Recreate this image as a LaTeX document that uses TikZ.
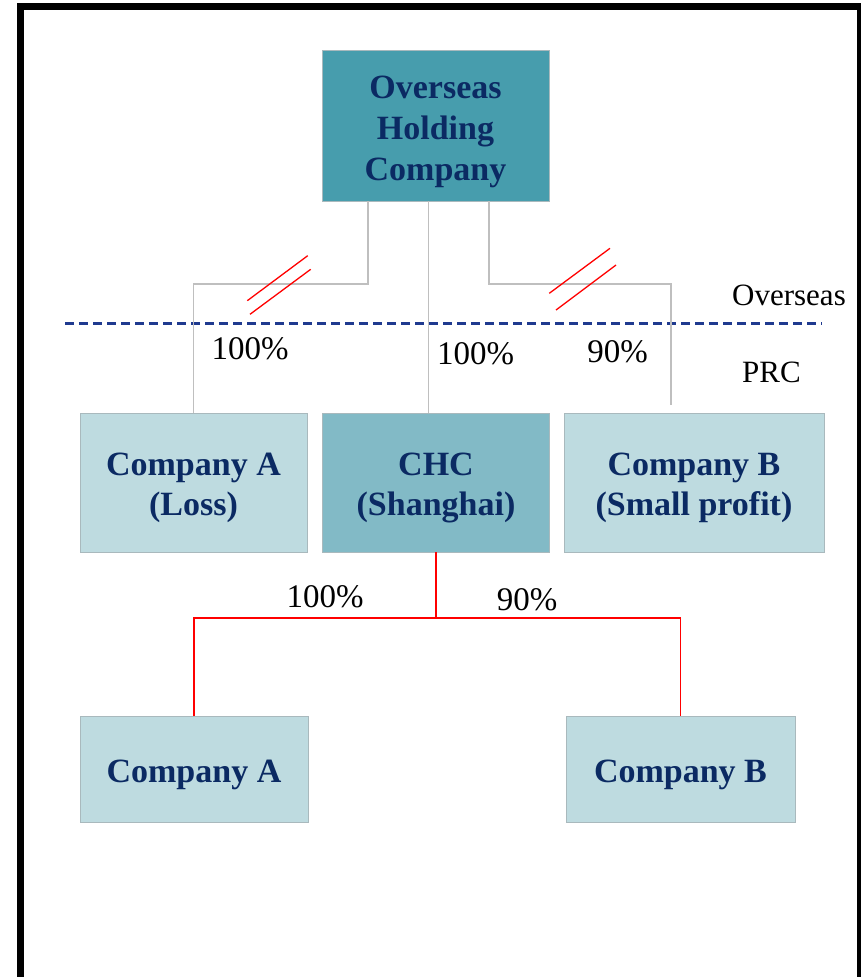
\documentclass[tikz,border=0pt]{standalone}
\usepackage{fontspec}
\setmainfont{Liberation Serif}
\definecolor{navytext}{HTML}{0B2A63}
\definecolor{tealdark}{HTML}{479DAD}
\definecolor{tealmid}{HTML}{82BAC6}
\definecolor{teallight}{HTML}{BEDBE0}
\definecolor{boxedge}{HTML}{A9B9BD}
\definecolor{linkgray}{HTML}{BFBFBF}
\definecolor{borderblue}{HTML}{1F3A8F}
\begin{document}
\begin{tikzpicture}[x=1pt,y=-1pt,
  box/.style={draw=boxedge,line width=1pt,inner sep=0pt,outer sep=0pt},
  boxtext/.style={anchor=base,inner sep=0pt,text=navytext,font=\fontsize{34}{41}\selectfont\bfseries},
  pct/.style={anchor=base,inner sep=0pt,text=black,font=\fontsize{33}{40}\selectfont},
  zone/.style={anchor=base,inner sep=0pt,text=black,font=\fontsize{31}{38}\selectfont},
  link/.style={draw=linkgray,line width=1.5pt},
  redlink/.style={draw=red,line width=1.5pt},
  cut/.style={draw=red,line width=1.3pt}]
\useasboundingbox (0,0) rectangle (861,977);
\fill[white] (0,0) rectangle (861,977);

% frame (open at the bottom)
\draw[black,line width=6.5pt] (20.5,1000) -- (20.5,6.3) -- (860,6.3) -- (860,1000);

% boxes
\node[box,fill=tealdark,minimum width=227pt,minimum height=151pt] (ohc) at (435.5,125.5) {};
\node[box,fill=teallight,minimum width=227pt,minimum height=139pt] (ca) at (193.5,482.5) {};
\node[box,fill=tealmid,minimum width=227pt,minimum height=139pt] (chc) at (436,482.5) {};
\node[box,fill=teallight,minimum width=260pt,minimum height=139pt] (cb) at (694,482.5) {};
\node[box,fill=teallight,minimum width=228pt,minimum height=106pt] (ba) at (194,769) {};
\node[box,fill=teallight,minimum width=229pt,minimum height=106pt] (bb) at (680.5,769) {};

% overseas / PRC boundary
\draw[borderblue,line width=3pt,dash pattern=on 9pt off 5pt] (65,323.7) coordinate (bl) -- (822,323.7) coordinate (br);

% ownership links from the holding company
\draw[link] (ohc.south -| 368,0) |- (193.5,284) -- (ca.north);
\draw[link] (ohc.south -| 428.5,0) -- (chc.north -| 428.5,0);
\draw[link,shorten >=8pt] (ohc.south -| 489,0) |- (671,284) -- (cb.north -| 671,0);

% links to be cut
\draw[cut] (247.3,300.7) -- (307.7,255.7);
\draw[cut] (250,314.3) -- (310.7,269.3);
\draw[cut] (549.3,293.3) -- (610,248.3);
\draw[cut] (556,310) -- (616,265);

% new links from CHC
\draw[redlink] (chc.south) -- (chc.south |- 0,618) coordinate (fork);
\draw[redlink] (ba.north) |- (fork) -| (bb.north);

% box texts
\node[boxtext] (ohc-1) at (435.5,98.3) {Overseas};
\node[boxtext] (ohc-2) at (435.5,139.3) {Holding};
\node[boxtext] (ohc-3) at (435.5,180) {Company};
\node[boxtext] (ca-1) at (193.5,475) {Company A};
\node[boxtext] (ca-2) at (193.5,515) {(Loss)};
\node[boxtext] (chc-1) at (436,475) {CHC};
\node[boxtext] (chc-2) at (436,515) {(Shanghai)};
\node[boxtext] (cb-1) at (694,475) {Company B};
\node[boxtext] (cb-2) at (694,515) {(Small profit)};
\node[boxtext] (ba-1) at (194,782) {Company A};
\node[boxtext] (bb-1) at (680.5,782) {Company B};

% shareholding percentages
\node[pct] (p1) at (250,359) {100\%};
\node[pct] (p2) at (475.5,364) {100\%};
\node[pct] (p3) at (617.5,362) {90\%};
\node[pct] (p4) at (325,607) {100\%};
\node[pct] (p5) at (527,610) {90\%};

% zone labels
\node[zone] (z1) at (789,305) {Overseas};
\node[zone] (z2) at (771.5,382) {PRC};
\end{tikzpicture}
\end{document}
